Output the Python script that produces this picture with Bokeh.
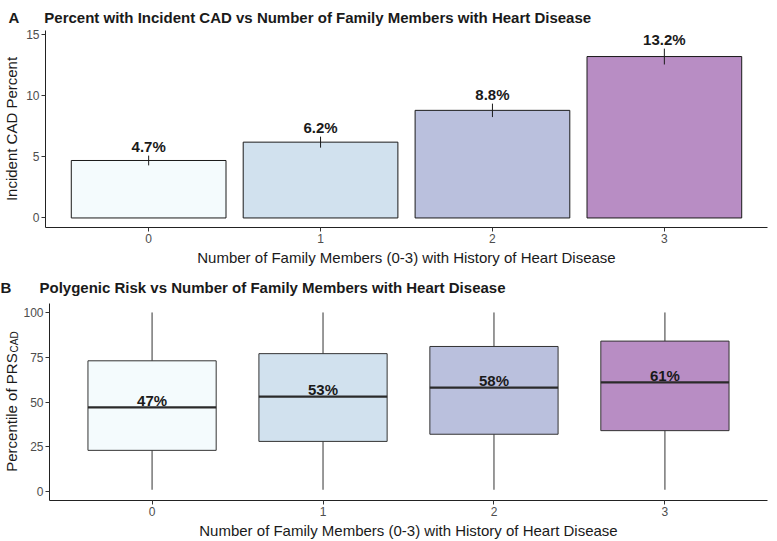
import math
import numpy as np
from bokeh.plotting import figure
from bokeh.models import Range1d, FixedTicker, ColumnDataSource, Title
from bokeh.layouts import column, row
from bokeh.embed import file_html
from bokeh.resources import INLINE
from bokeh.core.properties import value

# ---------------- data ----------------
categories = [0, 1, 2, 3]
tick_labels = ["0", "1", "2", "3"]

cad_pct = [4.7, 6.2, 8.8, 13.2]
cad_lo = [4.3, 5.75, 8.25, 12.55]
cad_hi = [5.1, 6.65, 9.35, 13.85]

prs_min = [1, 1, 1, 1]
prs_q1 = [23, 28, 32, 34]
prs_med = [47, 53, 58, 61]
prs_q3 = [73, 77, 81, 84]
prs_max = [100, 100, 100, 100]

fill_colors = ["#edf8fb", "#b3cde3", "#8c96c6", "#88419d"]

title_a = "Percent with Incident CAD vs Number of Family Members with Heart Disease"
title_b = "Polygenic Risk vs Number of Family Members with Heart Disease"
x_title = "Number of Family Members (0-3) with History of Heart Disease"
y_title_a = "Incident CAD Percent"
y_title_b = "Percentile of PRS"
y_title_b_sub = "CAD"

FONT = "Liberation Sans"
DARK = "#1a1a1a"
AXIS = "#222222"
NB = "\u00a0"
TOTAL_W = 769


def style(p, yticks):
    p.xgrid.visible = False
    p.ygrid.visible = False
    p.outline_line_color = None
    p.background_fill_color = "white"
    p.border_fill_color = "white"
    for ax in (p.xaxis[0], p.yaxis[0]):
        ax.axis_line_color = AXIS
        ax.axis_line_width = 1
        ax.major_tick_line_color = "#333333"
        ax.minor_tick_line_color = None
        ax.major_tick_out = 4
        ax.major_tick_in = 0
        ax.major_label_text_font = FONT
        ax.major_label_text_font_size = "12px"
        ax.major_label_text_color = "#4d4d4d"
        ax.major_label_standoff = 2
        ax.axis_label_text_font = FONT
        ax.axis_label_text_font_size = "15px"
        ax.axis_label_text_font_style = "normal"
        ax.axis_label_text_color = DARK
        ax.axis_label_standoff = 3
    p.xaxis.ticker = FixedTicker(ticks=categories)
    p.xaxis.major_label_overrides = dict(zip(categories, tick_labels))
    p.yaxis.ticker = FixedTicker(ticks=yticks)
    p.xaxis.axis_label = x_title


def bold_title(text, offset, standoff):
    return Title(text=text, align="left", offset=offset, text_font=FONT, text_font_size="15px",
                 text_font_style="bold", text_color=DARK, standoff=standoff, vertical_align="top")


# ---------------- panel A ----------------
x0, x1 = -0.6, 3.6
ya0, ya1 = -0.78, 15.33
p1 = figure(width=TOTAL_W, height=272, x_range=Range1d(x0, x1), y_range=Range1d(ya0, ya1),
            output_backend="svg", toolbar_location=None, title=None,
            min_border_left=36, min_border_right=2, min_border_top=30, min_border_bottom=45)
style(p1, [0, 5, 10, 15])
p1.yaxis.axis_label = y_title_a
p1.add_layout(bold_title("A" + NB * 6 + title_a, -37, 6), "above")

src1 = ColumnDataSource(dict(x=categories, pct=cad_pct, lo=cad_lo, hi=cad_hi, color=fill_colors,
                             label=[f"{v:.1f}%" for v in cad_pct]))
p1.vbar(x="x", top="pct", bottom=0, width=0.9, fill_color="color", fill_alpha=0.6,
        line_color=DARK, line_width=1, source=src1)
p1.segment(x0="x", y0="lo", x1="x", y1="hi", line_color=DARK, line_width=1, source=src1)
p1.text(x="x", y="hi", text="label", text_align="center", text_baseline="alphabetic",
        y_offset=-9, text_font=value(FONT), text_font_style="bold", text_font_size="15px",
        text_color=DARK, source=src1)

# ---------------- panel B ----------------
LW = 20          # width of the strip that carries the panel letter and the y title
H2 = 269
yb0, yb1 = -5, 105
yr2 = Range1d(yb0, yb1)
p2 = figure(width=TOTAL_W - LW, height=H2, x_range=Range1d(x0, x1), y_range=yr2,
            output_backend="svg", toolbar_location=None, title=None,
            min_border_left=27, min_border_right=2, min_border_top=31, min_border_bottom=39)
style(p2, [0, 25, 50, 75, 100])
p2.add_layout(bold_title(title_b, -10, 12), "above")

cats = np.array(categories, dtype=float)
half = 0.375
src2 = ColumnDataSource(dict(x=categories, lo=prs_min, q1=prs_q1, med=prs_med, q3=prs_q3, hi=prs_max,
                             color=fill_colors, xl=cats - half, xr=cats + half,
                             label=[f"{v}%" for v in prs_med]))
p2.segment(x0="x", y0="q3", x1="x", y1="hi", line_color="#333333", line_width=1, source=src2)
p2.segment(x0="x", y0="lo", x1="x", y1="q1", line_color="#333333", line_width=1, source=src2)
p2.vbar(x="x", top="q3", bottom="q1", width=2 * half, fill_color="color", fill_alpha=0.6,
        line_color="#333333", line_width=1, source=src2)
p2.segment(x0="xl", y0="med", x1="xr", y1="med", line_color="#2a2a2a", line_width=2.2, source=src2)
p2.text(x="x", y="med", text="label", text_align="center", text_baseline="alphabetic",
        y_offset=-7, text_font=value(FONT), text_font_style="bold", text_font_size="15px",
        text_color=DARK, source=src2)

# narrow strip at the left: panel letter "B" and the y title with its subscript
lab = figure(width=LW, height=H2, x_range=Range1d(0, LW), y_range=yr2,
             x_axis_type=None, y_axis_type=None, output_backend="svg", toolbar_location=None,
             title=None, min_border_left=0, min_border_right=0, min_border_top=31, min_border_bottom=39)
lab.xgrid.visible = False
lab.ygrid.visible = False
lab.outline_line_color = None
lab.border_fill_color = "white"
lab.add_layout(bold_title("B", 0, 12), "above")
ymid = (yb0 + yb1) / 2
lab.text(x=[11], y=[ymid], y_offset=69.75, text=[y_title_b], angle=math.pi / 2, text_align="left",
         text_baseline="alphabetic", text_font=value(FONT), text_font_size="15px", text_color=DARK)
lab.text(x=[14], y=[ymid], y_offset=-49.5, text=[y_title_b_sub], angle=math.pi / 2, text_align="left",
         text_baseline="alphabetic", text_font=value(FONT), text_font_size="10px", text_color=DARK)

layout = column(p1, row(lab, p2, spacing=0), spacing=0)
open("out.html", "w").write(file_html(layout, INLINE))
